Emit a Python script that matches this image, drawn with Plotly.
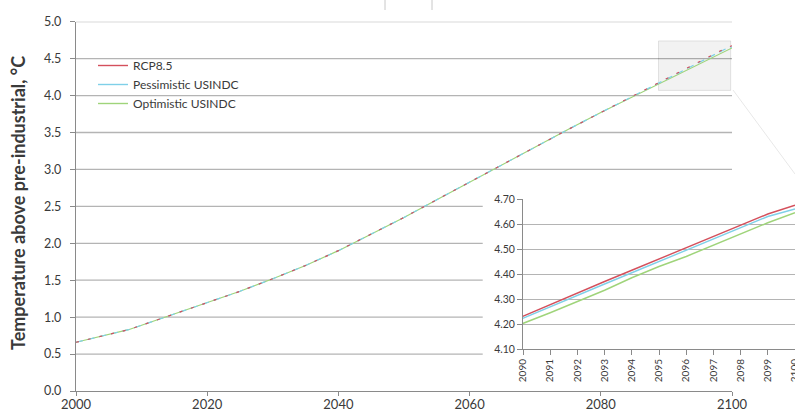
import plotly.graph_objects as go

W, H = 795, 412

# ---------------- data ----------------
years = [2000, 2008, 2010, 2015, 2020, 2025, 2030, 2035, 2040, 2045, 2050,
         2055, 2060, 2065, 2070, 2075, 2080, 2085,
         2090, 2091, 2092, 2093, 2094, 2095, 2096, 2097, 2098, 2099, 2100]
rcp85 = [0.66, 0.83, 0.89, 1.04, 1.19, 1.35, 1.52, 1.70, 1.90, 2.12, 2.35,
         2.59, 2.83, 3.07, 3.30, 3.54, 3.77, 4.00,
         4.233, 4.28, 4.325, 4.37, 4.415, 4.46, 4.503, 4.55, 4.595, 4.64, 4.675]
pess = [0.66, 0.83, 0.89, 1.04, 1.19, 1.35, 1.52, 1.70, 1.90, 2.12, 2.35,
        2.59, 2.83, 3.07, 3.30, 3.54, 3.77, 3.995,
        4.225, 4.27, 4.315, 4.36, 4.405, 4.45, 4.495, 4.54, 4.585, 4.63, 4.66]
opt = [0.66, 0.83, 0.89, 1.04, 1.19, 1.35, 1.52, 1.70, 1.90, 2.12, 2.35,
       2.59, 2.83, 3.07, 3.30, 3.54, 3.77, 3.99,
       4.20, 4.245, 4.29, 4.335, 4.385, 4.43, 4.47, 4.515, 4.56, 4.605, 4.645]

series_names = ["RCP8.5", "Pessimistic USINDC", "Optimistic USINDC"]
series_colors = ["#d4505c", "#7fd0e8", "#9fd47a"]

main_yticks = [0.0, 0.5, 1.0, 1.5, 2.0, 2.5, 3.0, 3.5, 4.0, 4.5, 5.0]
main_xticks = [2000, 2020, 2040, 2060, 2080, 2100]
inset_xticks = list(range(2090, 2101))
inset_yticks = [4.10, 4.20, 4.30, 4.40, 4.50, 4.60, 4.70]

y_title = "Temperature above pre-industrial, °C"

# ---------------- layout helpers ----------------
def px_x(p):
    return p / W

def px_y(p):
    return 1 - p / H

FONT = "Lato, 'Open Sans', sans-serif"
TXT = "#3a3a3a"
GRID = "#b4b4b4"
AXIS = "#8a8a8a"

fig = go.Figure()

# main chart lines (overlapping series, alternating dash so colours mix)
main_dash = ["3px,9px", "7px,5px", "solid"]
for i in [2, 1, 0]:
    fig.add_trace(go.Scatter(
        x=years, y=[rcp85, pess, opt][i], mode="lines",
        line=dict(color=series_colors[i], width=1.2, dash=main_dash[i]),
        showlegend=False, xaxis="x", yaxis="y", hoverinfo="skip"))

# inset lines (shown in legend)
for i, ys in enumerate([rcp85, pess, opt]):
    fig.add_trace(go.Scatter(
        x=years, y=ys, mode="lines", name=series_names[i],
        line=dict(color=series_colors[i], width=1.4),
        xaxis="x2", yaxis="y2", hoverinfo="skip"))

shapes = []
# main gridlines (cut where the inset panel covers them)
cover_year, cover_top = 2062, 2.8
for v in main_yticks[1:]:
    shapes.append(dict(type="line", xref="x", yref="y", layer="below",
                       x0=main_xticks[0], x1=(cover_year if v < cover_top else main_xticks[-1]),
                       y0=v, y1=v, line=dict(color=GRID, width=1.3)))
# zoom rectangle
shapes.append(dict(type="rect", xref="x", yref="y", layer="below",
                   x0=2088.8, x1=2099.8, y0=4.07, y1=4.74,
                   fillcolor="rgba(0,0,0,0.05)", line=dict(color="rgba(0,0,0,0.10)", width=1)))
# faint connector line
shapes.append(dict(type="line", xref="paper", yref="paper",
                   x0=px_x(733), y0=px_y(90), x1=px_x(795), y1=px_y(174),
                   line=dict(color="#e8e8e8", width=1)))
# small marks at top
for xx in [385, 432]:
    shapes.append(dict(type="line", xref="paper", yref="paper",
                       x0=px_x(xx), x1=px_x(xx), y0=px_y(0), y1=px_y(10),
                       line=dict(color="#c8c8c8", width=1)))

fig.update_layout(
    template="none",
    width=W, height=H,
    margin=dict(l=0, r=0, t=0, b=0, autoexpand=False),
    paper_bgcolor="white", plot_bgcolor="white",
    font=dict(family=FONT, color=TXT),
    shapes=shapes,
    xaxis=dict(domain=[px_x(76), px_x(732)], range=[2000, 2100], automargin=False,
               tickvals=main_xticks, ticks="outside", ticklen=4, tickcolor=AXIS,
               ticklabelstandoff=-3, ticklabeloverflow="allow",
               showline=True, linecolor=AXIS, linewidth=1.3, showgrid=False,
               zeroline=False, tickfont=dict(size=13, color=TXT)),
    yaxis=dict(domain=[px_y(391), px_y(21.7)], range=[0, 5], automargin=False,
               tickvals=main_yticks, tickformat=".1f", ticks="outside", ticklen=5,
               tickcolor=AXIS, ticklabelstandoff=6,
               showline=True, linecolor=AXIS, linewidth=1.3, showgrid=False,
               zeroline=False, tickfont=dict(size=12.5, color=TXT)),
    xaxis2=dict(domain=[px_x(523), 1.0], range=[2090, 2100], anchor="y2", automargin=False,
                tickvals=inset_xticks, tickangle=-90, ticks="outside", ticklen=5,
                ticklabeloverflow="allow",
                tickcolor=AXIS, showline=True, linecolor=AXIS, linewidth=1,
                showgrid=False, zeroline=False, tickfont=dict(size=10, color=TXT)),
    yaxis2=dict(domain=[px_y(349), px_y(199)], range=[4.10, 4.70], anchor="x2", automargin=False,
                tickvals=inset_yticks, tickformat=".2f", ticks="outside", ticklen=5,
                tickcolor=AXIS, showline=True, linecolor=AXIS, linewidth=1,
                showgrid=True, gridcolor=GRID, gridwidth=1, zeroline=False,
                tickfont=dict(size=10.5, color=TXT)),
    legend=dict(x=px_x(93), y=px_y(51), xanchor="left", yanchor="top",
                bgcolor="rgba(0,0,0,0)", font=dict(size=12, color=TXT),
                tracegroupgap=0, itemwidth=30),
    annotations=[dict(text="<b>" + y_title + "</b>", textangle=-90,
                      xref="paper", yref="paper", x=px_x(18), y=px_y(203),
                      xanchor="center", yanchor="middle",
                      showarrow=False, font=dict(size=18, color=TXT, family=FONT))],
)

fig.write_html("out.html")
